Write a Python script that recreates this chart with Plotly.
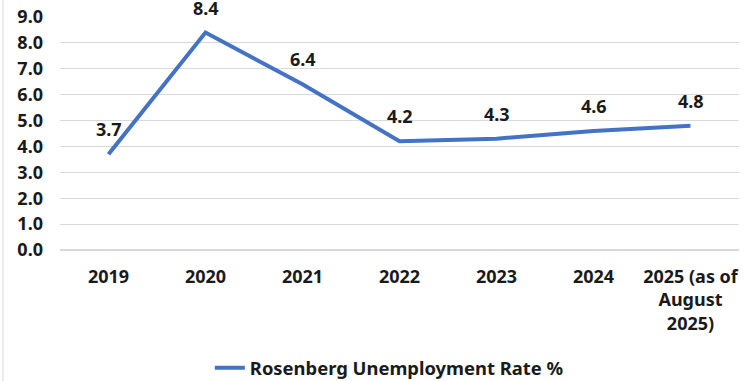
import plotly.graph_objects as go

categories = ["2019", "2020", "2021", "2022", "2023", "2024", "2025 (as of<br>August<br>2025)"]
rates = [3.7, 8.4, 6.4, 4.2, 4.3, 4.6, 4.8]
y_ticks = [0, 1, 2, 3, 4, 5, 6, 7, 8, 9]
series_name = "Rosenberg Unemployment Rate %"

FONT = "Noto Sans"
TXT = "#1a1a1a"
bold = dict(family=FONT, size=18, color=TXT, weight="bold")

fig = go.Figure()
fig.add_trace(go.Scatter(
    x=categories, y=rates, mode="lines", name=series_name,
    line=dict(color="#4472C4", width=4),
    cliponaxis=False, hoverinfo="skip",
))
for i, v in enumerate(rates):
    fig.add_annotation(x=i, y=v, xref="x", yref="y", text=f"{v:.1f}", showarrow=False,
                       yshift=25, yanchor="middle", font=bold)

fig.update_layout(
    width=753, height=381,
    margin=dict(l=60, r=14, t=17, b=131, autoexpand=False),
    plot_bgcolor="white", paper_bgcolor="white",
    font=bold,
    showlegend=True,
    legend=dict(orientation="h", x=0.485, xanchor="center", y=-0.506, yanchor="middle",
                font=dict(family=FONT, size=18.4, color=TXT, weight="bold"),
                bgcolor="rgba(0,0,0,0)"),
    xaxis=dict(type="category", categoryorder="array", categoryarray=categories,
               range=[-0.5, len(categories) - 0.5],
               showgrid=False, showline=False, ticks="", automargin=False,
               tickfont=bold, ticklabelstandoff=14),
    yaxis=dict(range=[0, 9], tickvals=y_ticks, tickformat=".1f", showgrid=True,
               gridcolor="#d9d9d9", gridwidth=1, zeroline=True, zerolinecolor="#d9d9d9",
               showline=False, ticks="", ticklabelstandoff=16, automargin=False,
               ticklabeloverflow="allow", tickfont=bold),
)
fig.add_shape(type="line", xref="paper", yref="paper", x0=-0.084, x1=-0.084, y0=-0.6, y1=1.1,
              line=dict(color="#d9d9d9", width=1))
fig.write_html(
    "out.html",
    config={"displayModeBar": False},
    post_script="document.body.style.margin='0';document.body.style.overflow='hidden';",
)
